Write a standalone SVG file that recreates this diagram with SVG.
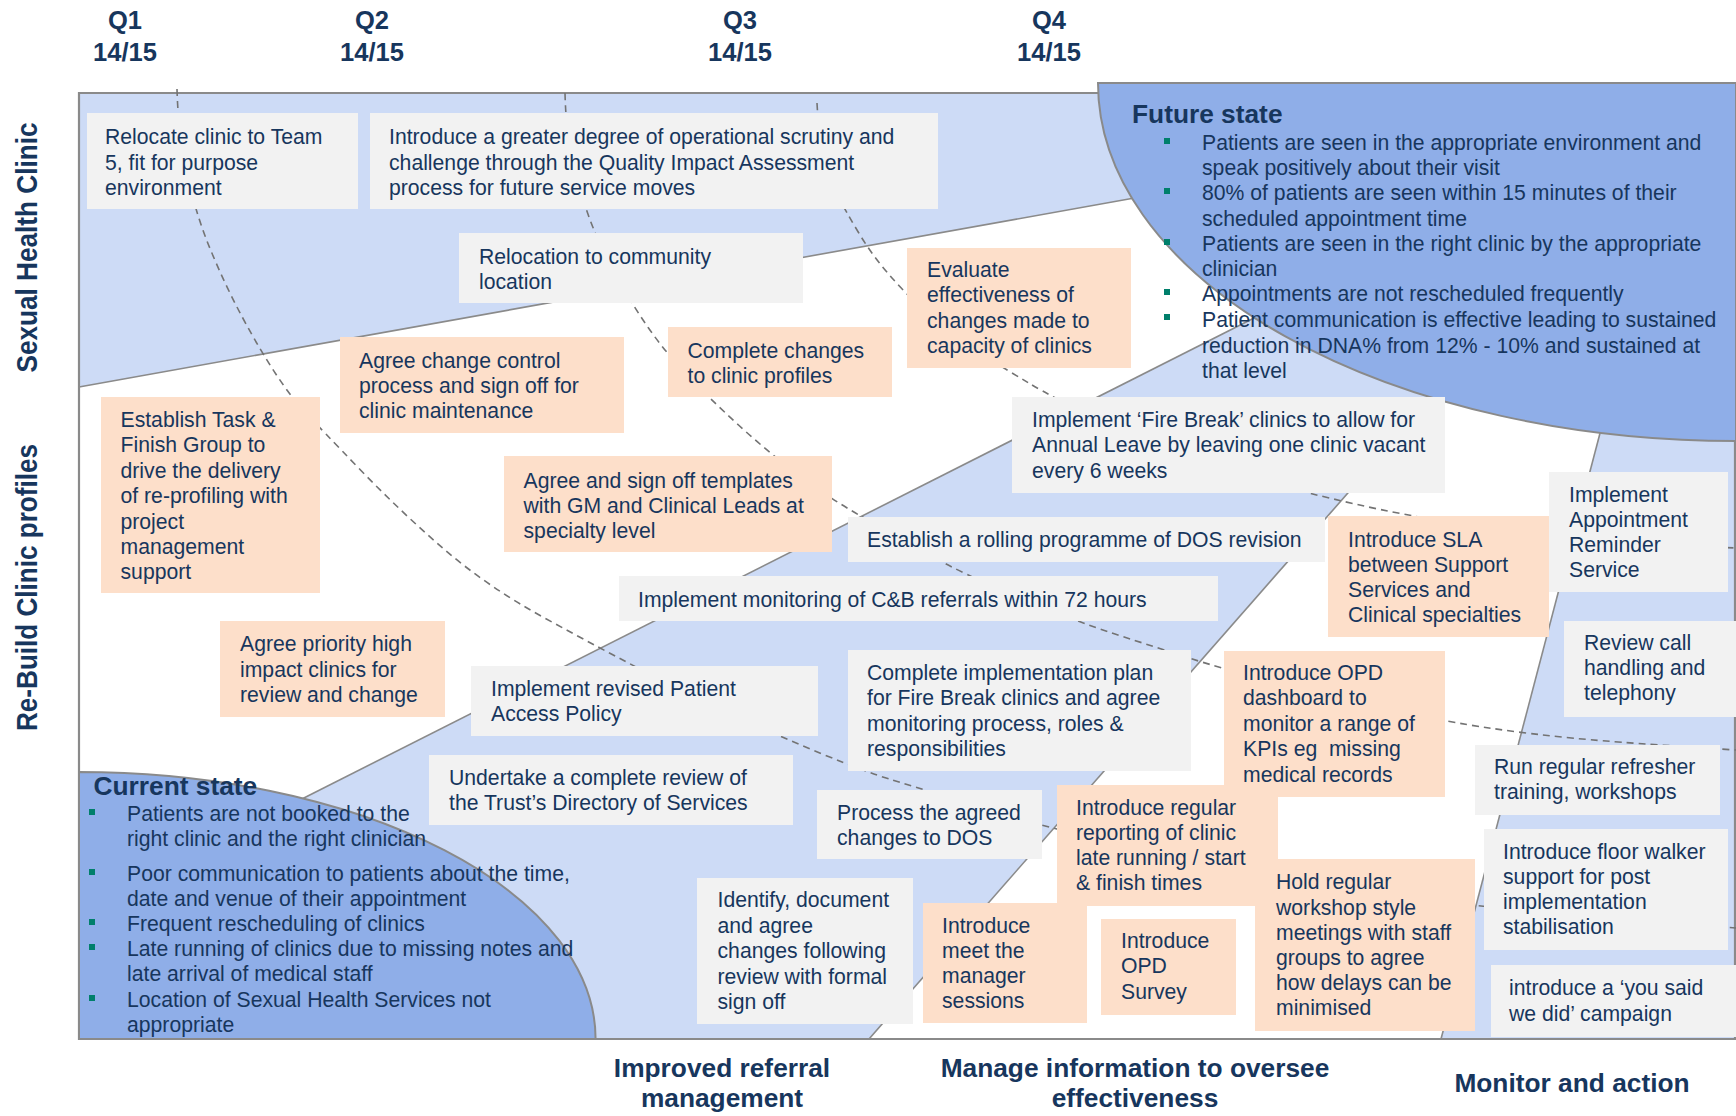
<svg xmlns="http://www.w3.org/2000/svg" width="1736" height="1116" viewBox="0 0 1736 1116">
<style>
.lb{fill:#CDDBF6}
.db{fill:#8FAEE8;stroke:#8A8A8A;stroke-width:2}
.edge{fill:none;stroke:#8A8A8A;stroke-width:1.6}
.frame{fill:none;stroke:#8A8A8A;stroke-width:2.2}
.dash{fill:none;stroke:#737373;stroke-width:1.6;stroke-dasharray:7 5}
.g{fill:#F2F2F2}
.o{fill:#FDDFCA}
.t{font-family:"Liberation Sans",Arial,sans-serif;font-size:21.2px;fill:#17365D}
.b{font-family:"Liberation Sans",Arial,sans-serif;font-weight:bold;fill:#17365D}
.bul{fill:#007F6B}
</style>
<rect width="1736" height="1116" fill="#FFFFFF"/>

<!-- bands -->
<g id="bands">
<polygon class="lb" points="79,93 1140,93 1140,197 79,387"/>
<polygon class="lb" points="290,805 1260,315 1445,382 869,1039 290,1039"/>
<polygon class="lb" points="1604,418 1441,1039 1736,1039 1736,418"/>
<line class="edge" x1="79" y1="387" x2="1140" y2="197"/>
<line class="edge" x1="290" y1="805" x2="1262" y2="314"/>
<line class="edge" x1="869" y1="1039" x2="1447" y2="380"/>
<line class="edge" x1="1441" y1="1039" x2="1604" y2="418"/>
</g>

<!-- frame -->
<g id="frame">
<polyline class="frame" points="1098,93 79,93 79,1039 1736,1039"/>
<line class="frame" x1="1735" y1="441" x2="1735" y2="1039"/>
</g>

<!-- future state -->
<g id="future-state">
<path class="db" d="M1098,83 A638,358 0 0 0 1736,441 L1736,83 Z"/>
<text class="b" font-size="26.3" x="1132" y="123">Future state</text>
<rect class="bul" x="1164" y="138" width="6" height="6"/>
<rect class="bul" x="1164" y="188" width="6" height="6"/>
<rect class="bul" x="1164" y="239" width="6" height="6"/>
<rect class="bul" x="1164" y="289" width="6" height="6"/>
<rect class="bul" x="1164" y="314" width="6" height="6"/>
<text class="t"><tspan x="1202" y="149.5">Patients are seen in the appropriate environment and</tspan><tspan x="1202" y="175">speak positively about their visit</tspan><tspan x="1202" y="200">80% of patients are seen within 15 minutes of their</tspan><tspan x="1202" y="225.5">scheduled appointment time</tspan><tspan x="1202" y="250.7">Patients are seen in the right clinic by the appropriate</tspan><tspan x="1202" y="276">clinician</tspan><tspan x="1202" y="300.7">Appointments are not rescheduled frequently</tspan><tspan x="1202" y="326.5">Patient communication is effective leading to sustained</tspan><tspan x="1202" y="352.5">reduction in DNA% from 12% - 10% and sustained at</tspan><tspan x="1202" y="378">that level</tspan></text>
</g>

<!-- current state -->
<g id="current-state">
<path class="db" d="M79,772 A516.6,267 0 0 1 595.6,1039 L79,1039 Z"/>
<text class="b" font-size="26.3" x="93.5" y="795">Current state</text>
<rect class="bul" x="89" y="809" width="6" height="6"/>
<rect class="bul" x="89" y="869" width="6" height="6"/>
<rect class="bul" x="89" y="919" width="6" height="6"/>
<rect class="bul" x="89" y="944" width="6" height="6"/>
<rect class="bul" x="89" y="995" width="6" height="6"/>
<text class="t"><tspan x="127" y="821">Patients are not booked to the</tspan><tspan x="127" y="846">right clinic and the right clinician</tspan><tspan x="127" y="880.5">Poor communication to patients about the time,</tspan><tspan x="127" y="906">date and venue of their appointment</tspan><tspan x="127" y="931">Frequent rescheduling of clinics</tspan><tspan x="127" y="956">Late running of clinics due to missing notes and</tspan><tspan x="127" y="981">late arrival of medical staff</tspan><tspan x="127" y="1006.5">Location of Sexual Health Services not</tspan><tspan x="127" y="1031.5">appropriate</tspan></text>
</g>

<!-- dashed quarter dividers -->
<g id="connectors">
<path class="dash" d="M177,89 Q178,130 186.5,171 Q195,212 210,248.5 Q225,285 242.5,317.5 Q260,350 275.5,373.5 Q291,397 305,412 Q319,427 360.5,470 Q402,513 445,550 Q488,587 545.5,618.5 Q603,650 651.5,675 Q700,700 740.5,718.5 Q781,737 823.5,754.5 Q866,772 892.5,780 Q919,788 982,808 Q1045,828 1147.5,850 Q1250,872 1366,891 Q1482,910 1736,928"/>
<path class="dash" d="M565,93 Q566,130 571,152.5 Q576,175 581,192.5 Q586,210 593,227.5 Q600,245 615.5,274 Q631,303 648.5,328 Q666,353 687,375 Q708,397 738.5,425 Q769,453 800.5,476.5 Q832,500 866,519 Q900,538 930.5,555.5 Q961,573 1016.5,596.5 Q1072,620 1115,634 Q1158,648 1189,658 Q1220,668 1275,682.5 Q1330,697 1389,709.5 Q1448,722 1489,728 Q1530,734 1577,738.5 Q1624,743 1736,750"/>
<path class="dash" d="M817,103 Q819,140 824.5,160 Q830,180 837.5,195 Q845,210 858.5,232.5 Q872,255 888.5,274 Q905,293 927.5,314 Q950,335 978.5,352.5 Q1007,370 1029.5,383.5 Q1052,397 1101,421 Q1150,445 1195,460 Q1240,475 1273.5,484 Q1307,493 1355,504 Q1403,515 1466.5,525 Q1530,535 1585,539.5 Q1640,544 1736,548"/>
</g>

<!-- headers -->
<g id="headers">
<text class="b" font-size="25.5" text-anchor="middle"><tspan x="125" y="29">Q1</tspan><tspan x="125" y="61">14/15</tspan></text>
<text class="b" font-size="25.5" text-anchor="middle"><tspan x="372" y="29">Q2</tspan><tspan x="372" y="61">14/15</tspan></text>
<text class="b" font-size="25.5" text-anchor="middle"><tspan x="740" y="29">Q3</tspan><tspan x="740" y="61">14/15</tspan></text>
<text class="b" font-size="25.5" text-anchor="middle"><tspan x="1049" y="29">Q4</tspan><tspan x="1049" y="61">14/15</tspan></text>
<text class="b" font-size="29" text-anchor="middle" textLength="250" lengthAdjust="spacingAndGlyphs" transform="translate(36.5,247.5) rotate(-90)" x="0" y="0">Sexual Health Clinic</text>
<text class="b" font-size="29" text-anchor="middle" textLength="287" lengthAdjust="spacingAndGlyphs" transform="translate(36.5,587.5) rotate(-90)" x="0" y="0">Re-Build Clinic profiles</text>
<text class="b" font-size="26.3" text-anchor="middle"><tspan x="722" y="1077">Improved referral</tspan><tspan x="722" y="1107">management</tspan></text>
<text class="b" font-size="26.3" text-anchor="middle"><tspan x="1135" y="1077">Manage information to oversee</tspan><tspan x="1135" y="1107">effectiveness</tspan></text>
<text class="b" font-size="26.3" text-anchor="middle" x="1572" y="1092">Monitor and action</text>
</g>

<!-- nodes -->
<g id="relocate-team5"><rect class="g" x="87" y="113" width="271" height="96"/><text class="t"><tspan x="105" y="144">Relocate clinic to Team</tspan><tspan x="105" y="169.5">5, fit for purpose</tspan><tspan x="105" y="195">environment</tspan></text></g>
<g id="operational-scrutiny"><rect class="g" x="370" y="113" width="568" height="96"/><text class="t"><tspan x="389" y="144">Introduce a greater degree of operational scrutiny and</tspan><tspan x="389" y="169.5">challenge through the Quality Impact Assessment</tspan><tspan x="389" y="195">process for future service moves</tspan></text></g>
<g id="relocation-community"><rect class="g" x="459" y="233" width="344" height="70"/><text class="t"><tspan x="479" y="263.5">Relocation to community</tspan><tspan x="479" y="288.5">location</tspan></text></g>
<g id="evaluate"><rect class="o" x="907" y="248" width="224" height="120"/><text class="t"><tspan x="927" y="277">Evaluate</tspan><tspan x="927" y="302">effectiveness of</tspan><tspan x="927" y="328">changes made to</tspan><tspan x="927" y="353">capacity of clinics</tspan></text></g>
<g id="complete-changes"><rect class="o" x="668" y="327" width="224" height="70"/><text class="t"><tspan x="687.5" y="358">Complete changes</tspan><tspan x="687.5" y="383">to clinic profiles</tspan></text></g>
<g id="change-control"><rect class="o" x="340" y="337" width="284" height="96"/><text class="t"><tspan x="359" y="368">Agree change control</tspan><tspan x="359" y="393">process and sign off for</tspan><tspan x="359" y="417.5">clinic maintenance</tspan></text></g>
<g id="task-finish"><rect class="o" x="101" y="397" width="219" height="196"/><text class="t"><tspan x="120.5" y="427">Establish Task &amp;</tspan><tspan x="120.5" y="452">Finish Group to</tspan><tspan x="120.5" y="477.5">drive the delivery</tspan><tspan x="120.5" y="503">of re-profiling with</tspan><tspan x="120.5" y="528.5">project</tspan><tspan x="120.5" y="554">management</tspan><tspan x="120.5" y="579">support</tspan></text></g>
<g id="fire-break"><rect class="g" x="1012" y="397" width="433" height="96"/><text class="t"><tspan x="1032" y="427">Implement ‘Fire Break’ clinics to allow for</tspan><tspan x="1032" y="452">Annual Leave by leaving one clinic vacant</tspan><tspan x="1032" y="477.5">every 6 weeks</tspan></text></g>
<g id="templates"><rect class="o" x="504" y="456" width="328" height="96"/><text class="t"><tspan x="523.5" y="487.5">Agree and sign off templates</tspan><tspan x="523.5" y="512.5">with GM and Clinical Leads at</tspan><tspan x="523.5" y="537.5">specialty level</tspan></text></g>
<g id="appointment-reminder"><rect class="g" x="1549" y="472" width="179" height="120"/><text class="t"><tspan x="1569" y="502">Implement</tspan><tspan x="1569" y="527">Appointment</tspan><tspan x="1569" y="552">Reminder</tspan><tspan x="1569" y="577">Service</tspan></text></g>
<g id="dos-revision"><rect class="g" x="848" y="517" width="477" height="45"/><text class="t" x="867" y="547">Establish a rolling programme of DOS revision</text></g>
<g id="sla"><rect class="o" x="1328" y="516" width="221" height="121"/><text class="t"><tspan x="1348" y="547">Introduce SLA</tspan><tspan x="1348" y="572">between Support</tspan><tspan x="1348" y="597">Services and</tspan><tspan x="1348" y="622">Clinical specialties</tspan></text></g>
<g id="cb-monitoring"><rect class="g" x="619" y="576" width="599" height="45"/><text class="t" x="638" y="606.7">Implement monitoring of C&amp;B referrals within 72 hours</text></g>
<g id="priority-clinics"><rect class="o" x="220" y="621" width="225" height="96"/><text class="t"><tspan x="240" y="651">Agree priority high</tspan><tspan x="240" y="676.5">impact clinics for</tspan><tspan x="240" y="701.5">review and change</tspan></text></g>
<g id="review-call"><rect class="g" x="1564" y="621" width="172" height="96"/><text class="t"><tspan x="1584" y="650">Review call</tspan><tspan x="1584" y="675">handling and</tspan><tspan x="1584" y="700">telephony</tspan></text></g>
<g id="implementation-plan"><rect class="g" x="848" y="650" width="343" height="121"/><text class="t"><tspan x="867" y="680">Complete implementation plan</tspan><tspan x="867" y="705">for Fire Break clinics and agree</tspan><tspan x="867" y="730.5">monitoring process, roles &amp;</tspan><tspan x="867" y="755.5">responsibilities</tspan></text></g>
<g id="opd-dashboard"><rect class="o" x="1224" y="651" width="221" height="146"/><text class="t"><tspan x="1243" y="680">Introduce OPD</tspan><tspan x="1243" y="705">dashboard to</tspan><tspan x="1243" y="730.5">monitor a range of</tspan><tspan x="1243" y="756" xml:space="preserve">KPIs eg  missing</tspan><tspan x="1243" y="781.5">medical records</tspan></text></g>
<g id="patient-access"><rect class="g" x="471" y="666" width="347" height="70"/><text class="t"><tspan x="491" y="696">Implement revised Patient</tspan><tspan x="491" y="721">Access Policy</tspan></text></g>
<g id="refresher"><rect class="g" x="1475" y="745" width="245" height="70"/><text class="t"><tspan x="1494" y="773.5">Run regular refresher</tspan><tspan x="1494" y="799">training, workshops</tspan></text></g>
<g id="dos-review"><rect class="g" x="429" y="755" width="364" height="70"/><text class="t"><tspan x="449" y="785">Undertake a complete review of</tspan><tspan x="449" y="810">the Trust’s Directory of Services</tspan></text></g>
<g id="process-dos"><rect class="g" x="817" y="790" width="225" height="69"/><text class="t"><tspan x="837" y="820">Process the agreed</tspan><tspan x="837" y="844.5">changes to DOS</tspan></text></g>
<g id="late-running"><rect class="o" x="1057" y="785" width="221" height="121"/><text class="t"><tspan x="1076" y="815">Introduce regular</tspan><tspan x="1076" y="840">reporting of clinic</tspan><tspan x="1076" y="865">late running / start</tspan><tspan x="1076" y="890">&amp; finish times</tspan></text></g>
<g id="workshop-meetings"><rect class="o" x="1255" y="859" width="220" height="172"/><text class="t"><tspan x="1276" y="889">Hold regular</tspan><tspan x="1276" y="914.5">workshop style</tspan><tspan x="1276" y="940">meetings with staff</tspan><tspan x="1276" y="965">groups to agree</tspan><tspan x="1276" y="990">how delays can be</tspan><tspan x="1276" y="1015">minimised</tspan></text></g>
<g id="floor-walker"><rect class="g" x="1484" y="829" width="244" height="121"/><text class="t"><tspan x="1503" y="858.5">Introduce floor walker</tspan><tspan x="1503" y="883.5">support for post</tspan><tspan x="1503" y="909">implementation</tspan><tspan x="1503" y="934">stabilisation</tspan></text></g>
<g id="identify-changes"><rect class="g" x="697" y="878" width="216" height="146"/><text class="t"><tspan x="717.5" y="907">Identify, document</tspan><tspan x="717.5" y="932.5">and agree</tspan><tspan x="717.5" y="958">changes following</tspan><tspan x="717.5" y="983.5">review with formal</tspan><tspan x="717.5" y="1008.5">sign off</tspan></text></g>
<g id="meet-manager"><rect class="o" x="923" y="903" width="164" height="120"/><text class="t"><tspan x="942" y="933">Introduce</tspan><tspan x="942" y="958">meet the</tspan><tspan x="942" y="983">manager</tspan><tspan x="942" y="1008">sessions</tspan></text></g>
<g id="opd-survey"><rect class="o" x="1101" y="919" width="135" height="96"/><text class="t"><tspan x="1121" y="948">Introduce</tspan><tspan x="1121" y="973">OPD</tspan><tspan x="1121" y="999">Survey</tspan></text></g>
<g id="you-said"><rect class="g" x="1491" y="965" width="245" height="72"/><text class="t"><tspan x="1509" y="995">introduce a ‘you said</tspan><tspan x="1509" y="1020.5">we did’ campaign</tspan></text></g>
</svg>
